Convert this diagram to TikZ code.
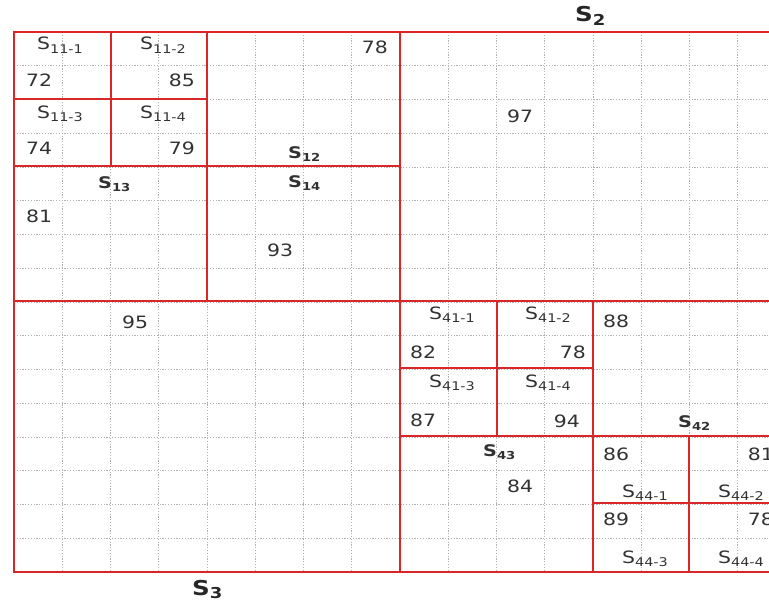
\documentclass[tikz,border=0pt]{standalone}
\usepackage{fontspec}
\setmainfont{DejaVu Sans}[FakeStretch=1.2]
\definecolor{partred}{RGB}{218,38,38}
\definecolor{txtgray}{RGB}{50,50,50}
% S with a lowered index
\newcommand{\Sname}[2][12]{S\raisebox{-3.5pt}{\fontsize{#1}{#1}\selectfont #2}}

\begin{document}
\begin{tikzpicture}[x=1pt, y=-1pt,
  part/.style={draw=partred, line width=2.2pt},
  gridline/.style={gray!60, line width=0.7pt, dash pattern=on 1.2pt off 1.6pt},
  num/.style={inner sep=0pt, text=txtgray, font=\fontsize{17}{17}\selectfont},
  blab/.style={inner sep=0pt, text=txtgray, font=\bfseries\fontsize{16}{16}\selectfont},
  big/.style={inner sep=0pt, text=black!85, font=\bfseries\fontsize{20.5}{20.5}\selectfont}]
\useasboundingbox (0,0) rectangle (769,602);
\clip (0,0) rectangle (769,602);

% dotted grid
\foreach \i in {0,...,16} {
  \draw[gridline] ({14+48.25*\i},32) -- ({14+48.25*\i},572);
  \draw[gridline] (14,{32+33.75*\i}) -- (786,{32+33.75*\i});
}

% partition lines
\draw[part] (14,32) rectangle (786,572);
\draw[part] (400,32) -- (400,572);
\draw[part] (14,301) -- (786,301);
% S1
\draw[part] (207,32) -- (207,301);
\draw[part] (14,166) -- (400,166);
\draw[part] (111,32) -- (111,166);
\draw[part] (14,99) -- (207,99);
% S4
\draw[part] (593,301) -- (593,572);
\draw[part] (400,436) -- (786,436);
\draw[part] (497,301) -- (497,436);
\draw[part] (400,368) -- (593,368);
\draw[part] (689,436) -- (689,572);
\draw[part] (593,503) -- (786,503);

% quadrant names
\node[big, anchor=base west] (s2) at (575,22) {\Sname[15]{2}};
\node[big, anchor=base west] (s3) at (192,595) {\Sname[15]{3}};

% S1 block
\node[num, anchor=base west] (s111) at (37,50) {\Sname{11-1}};
\node[num, anchor=base west] (s112) at (140,50) {\Sname{11-2}};
\node[num, anchor=base west] (s113) at (37,118) {\Sname{11-3}};
\node[num, anchor=base west] (s114) at (140,118) {\Sname{11-4}};
\node[num, anchor=base west] (v111) at (26,87) {72};
\node[num, anchor=base east] (v112) at (195,87) {85};
\node[num, anchor=base west] (v113) at (26,154) {74};
\node[num, anchor=base east] (v114) at (195,154) {79};
\node[num, anchor=base east] (v12) at (388,54) {78};
\node[blab, anchor=base west] (s12) at (288,158) {\Sname[11]{12}};
\node[blab, anchor=base west] (s13) at (98,188) {\Sname[11]{13}};
\node[blab, anchor=base west] (s14) at (288,187) {\Sname[11]{14}};
\node[num, anchor=base west] (v13) at (26,222) {81};
\node[num, anchor=base west] (v14) at (267,256) {93};

% S2, S3
\node[num, anchor=base west] (v2) at (507,122) {97};
\node[num, anchor=base west] (v3) at (122,328) {95};

% S4 block
\node[num, anchor=base west] (s411) at (429,319) {\Sname{41-1}};
\node[num, anchor=base west] (s412) at (525,319) {\Sname{41-2}};
\node[num, anchor=base west] (s413) at (429,387) {\Sname{41-3}};
\node[num, anchor=base west] (s414) at (525,387) {\Sname{41-4}};
\node[num, anchor=base west] (v411) at (410,358) {82};
\node[num, anchor=base east] (v412) at (586,358) {78};
\node[num, anchor=base west] (v413) at (410,426) {87};
\node[num, anchor=base east] (v414) at (580,427) {94};
\node[num, anchor=base west] (v42) at (603,327) {88};
\node[blab, anchor=base west] (s42) at (678,427) {\Sname[11]{42}};
\node[blab, anchor=base west] (s43) at (483,456) {\Sname[11]{43}};
\node[num, anchor=base west] (v43) at (507,492) {84};
\node[num, anchor=base west] (v441) at (603,460) {86};
\node[num, anchor=base east] (v442) at (774,460) {81};
\node[num, anchor=base west] (v443) at (603,525) {89};
\node[num, anchor=base east] (v444) at (774,525) {78};
\node[num, anchor=base west] (s441) at (622,497) {\Sname{44-1}};
\node[num, anchor=base west] (s442) at (718,497) {\Sname{44-2}};
\node[num, anchor=base west] (s443) at (622,563) {\Sname{44-3}};
\node[num, anchor=base west] (s444) at (718,563) {\Sname{44-4}};
\end{tikzpicture}
\end{document}
